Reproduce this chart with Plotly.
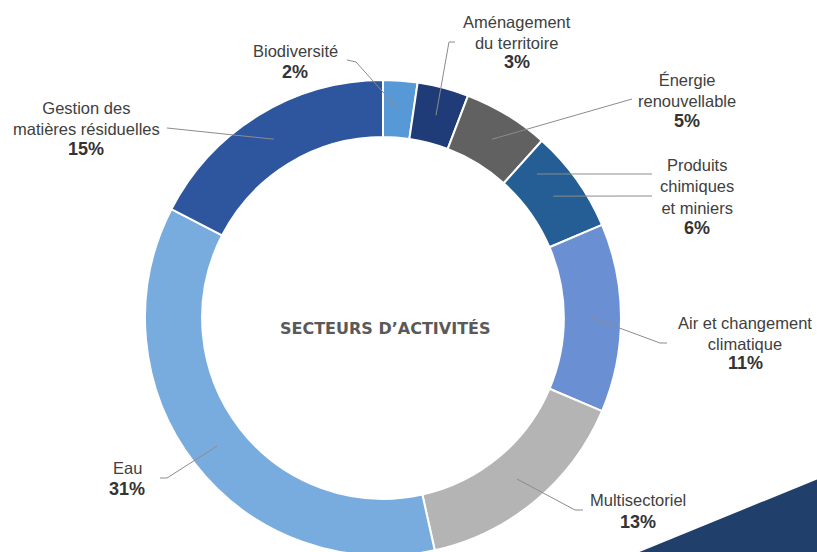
import math
import plotly.graph_objects as go

# ---- data ----
sectors = ["Biodiversité", "Aménagement du territoire", "Énergie renouvellable",
           "Produits chimiques et miniers", "Air et changement climatique",
           "Multisectoriel", "Eau", "Gestion des matières résiduelles"]
shares = [2, 3, 5, 6, 11, 13, 31, 15]
share_labels = ["2%", "3%", "5%", "6%", "11%", "13%", "31%", "15%"]
label_lines = [["Biodiversité"], ["Aménagement", "du territoire"],
               ["Énergie", "renouvellable"], ["Produits", "chimiques", "et miniers"],
               ["Air et changement", "climatique"], ["Multisectoriel"], ["Eau"],
               ["Gestion des", "matières résiduelles"]]
colors = ["#5798d6", "#1f3c78", "#616161", "#245e94", "#6a8fd2",
          "#b4b4b4", "#79acde", "#2e569e"]
center_title = "SECTEURS D’ACTIVITÉS"

# ---- layout geometry (pixels) ----
W, H = 817, 560          # page window is 552 high: bottom of the ring is cut off
cx, cy, R = 383, 318, 238
hole = 0.76

def px(x):
    return x / W

def py(y):
    return 1 - y / H

fig = go.Figure()
fig.add_trace(go.Pie(
    labels=sectors, values=shares, sort=False, direction="clockwise",
    rotation=0, hole=hole, textinfo="none", textposition="none",
    marker=dict(colors=colors, line=dict(color="white", width=2)),
    domain=dict(x=[px(cx - R), px(cx + R)], y=[py(cy + R), py(cy - R)]),
    showlegend=False, hoverinfo="label+percent",
))

# label placement (pixels): x center, y of name block center, y of pct
label_pos = [
    (295, 51, 72),
    (517, 32, 62),
    (687, 91, 121),
    (697, 187, 228),
    (745, 333, 363),
    (638, 500, 522),
    (127, 468, 489),
    (86, 118, 149),
]
# leader tails (pixels) near the text, with optional elbow
tails = [
    [(347, 60), (356, 62)],
    [(455, 42), (449, 42)],
    [(632, 99)],
    [(652, 196)],
    [(667, 343), (660, 343)],
    [(583, 510), (575, 510)],
    [(160, 478), (167, 478)],
    [(167, 128)],
]

total = sum(shares)
cum = 0
r_mid = R * (1 + hole) / 2
annotations = []
shapes = []
for i, v in enumerate(shares):
    mid = (cum + v / 2) / total * 2 * math.pi
    cum += v
    hx = cx + r_mid * math.sin(mid)
    hy = cy - r_mid * math.cos(mid)
    pts = tails[i] + [(hx, hy)]
    path = "M " + " L ".join(f"{px(a):.5f},{py(b):.5f}" for a, b in pts)
    shapes.append(dict(type="path", xref="paper", yref="paper", path=path,
                       line=dict(color="#8c8c8c", width=1)))
    x0, yname, ypct = label_pos[i]
    annotations.append(dict(
        x=px(x0), y=py(yname), xref="paper", yref="paper",
        text="<br>".join(label_lines[i]), showarrow=False,
        xanchor="center", yanchor="middle", align="center",
        font=dict(family="Liberation Sans, Arial", size=16.5, color="#404040")))
    annotations.append(dict(
        x=px(x0), y=py(ypct), xref="paper", yref="paper",
        text=f"<b>{share_labels[i]}</b>", showarrow=False,
        xanchor="center", yanchor="middle",
        font=dict(family="Liberation Sans, Arial", size=18, color="#333333")))

# extra leader line into the "Produits" slice (as in the original)
mid_p = (sum(shares[:3]) + shares[3] * 0.25) / total * 2 * math.pi
hx2 = cx + r_mid * math.sin(mid_p) - 2
shapes.append(dict(type="path", xref="paper", yref="paper",
                   path=f"M {px(652):.5f},{py(174):.5f} L {px(hx2):.5f},{py(174):.5f}",
                   line=dict(color="#8c8c8c", width=1)))

annotations.append(dict(
    x=px(385), y=py(328), xref="paper", yref="paper", text=f"<b>{center_title}</b>",
    showarrow=False, xanchor="center", yanchor="middle",
    font=dict(family="DejaVu Sans, sans-serif", size=16, color="#595959")))

# decorative corner triangle
shapes.append(dict(type="path", xref="paper", yref="paper",
                   path=f"M {px(637)},{py(553)} L {px(818)},{py(479)} L {px(818)},{py(561)} L {px(637)},{py(561)} Z",
                   fillcolor="#203f6b", line=dict(width=0), layer="above"))

fig.update_layout(
    width=W, height=H, margin=dict(l=0, r=0, t=0, b=0),
    paper_bgcolor="white", plot_bgcolor="white",
    annotations=annotations, shapes=shapes,
)
fig.write_html("out.html", config={"displayModeBar": False},
               post_script="document.body.style.margin='0';"
                           "document.body.style.overflow='hidden';")
